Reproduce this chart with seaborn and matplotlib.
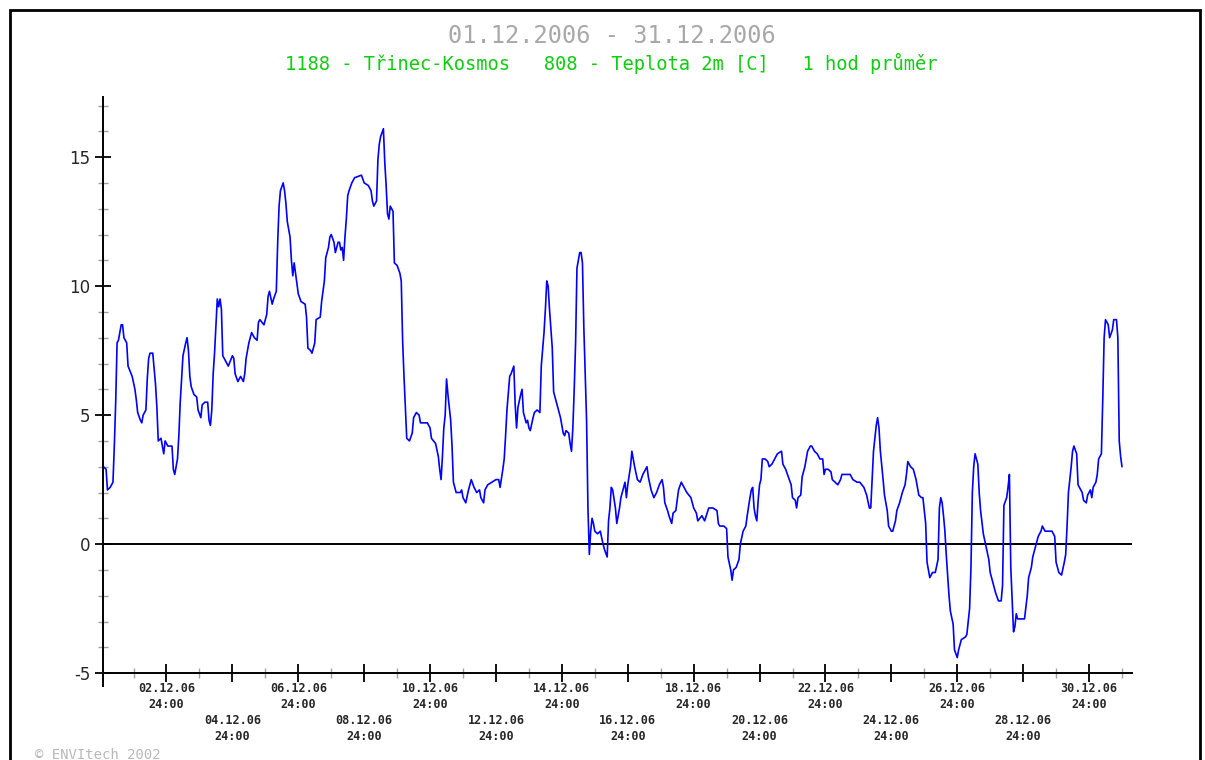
import numpy as np
import pandas as pd
import matplotlib
matplotlib.use("Agg")
import matplotlib.pyplot as plt
import seaborn as sns
from matplotlib.patches import Rectangle

sns.set_style("white")
plt.rcParams['font.family'] = ['DejaVu Sans']

# hours since 01.12.2006 00:00 and the hourly mean temperature
hours = [2, 4, 5, 7, 9, 10, 11, 12, 13, 15, 16, 17, 19, 20, 23, 25, 26, 27, 29, 30,
         31, 33, 34, 35, 36, 38, 39, 40, 41, 42, 44, 45, 46, 47, 49, 52, 53, 54, 56, 57,
         58, 60, 62, 63, 64, 65, 66, 68, 70, 71, 73, 74, 76, 78, 79, 80, 81, 82, 83, 85,
         86, 87, 88, 89, 91, 93, 96, 97, 98, 100, 102, 104, 105, 106, 107, 108, 110, 112, 114, 115,
         116, 119, 121, 122, 123, 125, 126, 128, 129, 130, 131, 133, 134, 135, 136, 138, 139, 140, 141, 142,
         144, 146, 149, 150, 151, 153, 154, 156, 157, 160, 161, 163, 164, 166, 167, 168, 170, 171, 173, 174,
         175, 176, 177, 178, 179, 180, 181, 183, 185, 190, 192, 195, 197, 198, 199, 201, 202, 203, 204, 206,
         207, 208, 209, 210, 211, 213, 214, 216, 218, 219, 220, 221, 222, 223, 225, 227, 228, 230, 232, 233,
         238, 240, 241, 244, 246, 247, 248, 249, 250, 251, 252, 253, 255, 256, 257, 259, 262, 263, 264, 266,
         268, 270, 272, 274, 276, 277, 279, 280, 282, 285, 288, 290, 291, 293, 294, 295, 296, 298, 299, 301,
         302, 303, 304, 306, 307, 308, 310, 311, 312, 313, 315, 316, 318, 320, 321, 323, 324, 325, 326, 327,
         329, 330, 332, 333, 335, 337, 338, 339, 341, 342, 343, 344, 345, 346, 347, 349, 350, 351, 352, 354,
         355, 356, 357, 358, 359, 360, 362, 364, 366, 367, 369, 370, 371, 372, 373, 375, 376, 378, 379, 381,
         382, 383, 384, 386, 387, 389, 391, 393, 395, 398, 399, 401, 403, 405, 407, 409, 410, 411, 413, 414,
         416, 417, 419, 421, 423, 424, 427, 430, 432, 434, 435, 438, 440, 443, 446, 449, 450, 451, 454, 456,
         457, 459, 460, 461, 463, 465, 466, 468, 470, 471, 473, 474, 475, 476, 477, 478, 479, 480, 481, 482,
         484, 486, 487, 489, 491, 493, 496, 497, 499, 501, 503, 504, 506, 507, 508, 510, 511, 513, 515, 517,
         518, 520, 522, 524, 526, 527, 528, 530, 532, 533, 535, 537, 539, 540, 543, 546, 548, 551, 553, 556,
         558, 560, 561, 562, 563, 565, 566, 567, 568, 570, 571, 573, 574, 576, 577, 579, 580, 582, 584, 586,
         587, 588, 590, 592, 594, 596, 598, 599, 601, 602, 604, 606, 608, 610, 611, 612, 613, 614, 615, 616,
         618, 619, 621, 622, 624, 625, 627, 630, 631, 633, 634, 635, 636, 637, 639, 640, 641, 643, 645, 647,
         648, 650, 652, 654, 656, 657, 658, 660, 661, 662, 663, 664, 665, 666, 667, 668, 671, 673, 675, 676,
         678, 679, 681, 683, 685, 686, 688, 690, 693, 695, 696, 698, 700, 702, 703, 704, 705, 707, 708, 709,
         711, 712, 713, 715, 716, 718, 719, 721, 722, 723, 725, 726, 727, 729, 730, 731, 732, 734, 735, 737,
         738, 740, 741, 742, 743, 744]
temps = [3.0, 2.9, 2.1, 2.2, 2.4, 3.8, 5.5, 7.8, 7.9, 8.5, 8.5, 8.0, 7.8, 6.9, 6.5, 6.0, 5.6, 5.1, 4.8, 4.7,
         5.0, 5.2, 6.4, 7.2, 7.4, 7.4, 6.8, 6.2, 5.3, 4.0, 4.1, 3.8, 3.5, 4.0, 3.8, 3.8, 2.9, 2.7, 3.3, 4.2,
         5.5, 7.3, 7.8, 8.0, 7.5, 6.5, 6.1, 5.8, 5.7, 5.2, 4.9, 5.4, 5.5, 5.5, 4.8, 4.6, 5.2, 6.6, 7.4, 9.5,
         9.2, 9.5, 9.1, 7.3, 7.1, 6.9, 7.3, 7.2, 6.6, 6.3, 6.5, 6.3, 6.6, 7.2, 7.5, 7.8, 8.2, 8.0, 7.9, 8.6,
         8.7, 8.5, 8.9, 9.6, 9.8, 9.3, 9.5, 9.8, 11.7, 13.1, 13.7, 14.0, 13.7, 13.2, 12.5, 11.9, 11.0, 10.4, 10.9, 10.5,
         9.7, 9.4, 9.3, 8.8, 7.6, 7.5, 7.4, 7.8, 8.7, 8.8, 9.4, 10.2, 11.1, 11.5, 11.9, 12.0, 11.7, 11.3, 11.7, 11.7,
         11.4, 11.5, 11.0, 11.9, 12.6, 13.5, 13.7, 14.0, 14.2, 14.3, 14.0, 13.9, 13.7, 13.3, 13.1, 13.3, 14.9, 15.5, 15.8, 16.1,
         14.8, 13.9, 12.8, 12.6, 13.1, 12.9, 10.9, 10.8, 10.5, 10.2, 7.9, 6.5, 5.3, 4.1, 4.0, 4.3, 4.9, 5.1, 5.0, 4.7,
         4.7, 4.5, 4.1, 3.9, 3.4, 2.9, 2.5, 3.4, 4.5, 5.0, 6.4, 5.8, 4.8, 3.8, 2.4, 2.0, 2.0, 2.1, 1.8, 1.6,
         2.1, 2.5, 2.2, 2.0, 2.1, 1.8, 1.6, 2.1, 2.3, 2.4, 2.5, 2.5, 2.2, 2.9, 3.3, 4.2, 5.2, 6.5, 6.6, 6.9,
         5.4, 4.5, 5.3, 5.8, 6.0, 5.1, 4.7, 4.8, 4.5, 4.4, 4.9, 5.1, 5.2, 5.1, 6.9, 8.2, 9.1, 10.2, 10.0, 9.1,
         7.6, 5.9, 5.5, 5.3, 4.9, 4.3, 4.2, 4.4, 4.3, 3.9, 3.6, 4.5, 6.0, 7.8, 10.7, 11.3, 11.3, 10.9, 8.4, 4.8,
         1.4, -0.4, 0.5, 1.0, 0.8, 0.5, 0.4, 0.5, 0.0, -0.2, -0.5, 0.9, 1.4, 2.2, 2.1, 1.4, 0.8, 1.4, 1.8, 2.2,
         2.4, 1.8, 2.3, 3.0, 3.6, 3.0, 2.5, 2.4, 2.7, 3.0, 2.6, 2.1, 1.8, 2.0, 2.3, 2.5, 2.2, 1.6, 1.3, 1.1,
         0.8, 1.2, 1.3, 2.1, 2.4, 2.3, 2.0, 1.8, 1.4, 1.2, 0.9, 1.1, 0.9, 1.4, 1.4, 1.3, 0.8, 0.7, 0.7, 0.6,
         -0.5, -1.0, -1.4, -1.0, -0.9, -0.6, 0.0, 0.5, 0.7, 1.1, 1.8, 2.1, 2.2, 1.4, 1.1, 0.9, 1.7, 2.3, 2.5, 3.3,
         3.3, 3.2, 3.0, 3.1, 3.3, 3.5, 3.6, 3.1, 2.9, 2.6, 2.3, 1.8, 1.7, 1.4, 1.8, 1.9, 2.6, 3.0, 3.6, 3.8,
         3.8, 3.6, 3.5, 3.3, 3.3, 2.7, 2.9, 2.9, 2.8, 2.5, 2.4, 2.3, 2.5, 2.7, 2.7, 2.7, 2.5, 2.4, 2.4, 2.2,
         1.9, 1.4, 1.4, 2.5, 3.6, 4.6, 4.9, 4.5, 3.6, 2.5, 1.9, 1.3, 0.7, 0.5, 0.5, 0.9, 1.3, 1.6, 2.0, 2.3,
         2.7, 3.2, 3.0, 2.9, 2.5, 1.9, 1.8, 1.8, 0.8, -0.7, -1.3, -1.1, -1.1, -0.6, 1.4, 1.8, 1.6, 1.1, 0.5, -0.4,
         -2.0, -2.6, -3.1, -4.1, -4.4, -4.1, -3.7, -3.6, -3.5, -2.5, -0.9, 2.0, 3.0, 3.5, 3.1, 2.0, 1.3, 0.4, -0.1, -0.6,
         -1.1, -1.5, -1.9, -2.2, -2.2, -1.6, 1.5, 1.8, 2.2, 2.7, -0.9, -2.2, -3.4, -3.2, -2.7, -2.9, -2.9, -2.9, -2.0, -1.3,
         -0.9, -0.5, -0.1, 0.3, 0.5, 0.7, 0.5, 0.5, 0.5, 0.3, -0.7, -1.1, -1.2, -0.7, -0.4, 0.7, 2.0, 3.0, 3.6, 3.8,
         3.5, 2.3, 2.2, 2.0, 1.7, 1.6, 1.9, 2.1, 1.8, 2.2, 2.4, 2.7, 3.3, 3.5, 5.6, 8.0, 8.7, 8.5, 8.0, 8.3,
         8.7, 8.7, 8.0, 4.0, 3.4, 3.0]

label_days = [2, 4, 6, 8, 10, 12, 14, 16, 18, 20, 22, 24, 26, 28, 30]
y_major = [-5, 0, 5, 10, 15]

df = pd.DataFrame({"hour": hours, "temp": temps})

fig = plt.figure(figsize=(12.05, 7.6), dpi=100)
ax = fig.add_axes([103 / 1205, 1 - 686 / 760, 1029 / 1205, 589 / 760])

sns.lineplot(data=df, x="hour", y="temp", color="#0000ff", lw=1.2,
             estimator=None, ax=ax)
ax.axhline(0, color="black", lw=1.4, zorder=1)

ax.set_xlim(1.75, 751.3)
ax.set_ylim(-5.5, 17.33)
ax.set_xlabel("")
ax.set_ylabel("")

for s in ["top", "right"]:
    ax.spines[s].set_visible(False)
ax.spines["bottom"].set_position(("data", -5))
ax.spines["left"].set_linewidth(1.4)
ax.spines["bottom"].set_linewidth(1.4)
ax.spines["left"].set_color("black")
ax.spines["bottom"].set_color("black")

# x ticks: label every second day at 24:00, labels in two staggered rows
major_x = [d * 24 for d in label_days]
xlabels = []
for i, d in enumerate(label_days):
    txt = "%02d.12.06\n24:00" % d
    if i % 2 == 1:
        txt = "\n\n" + txt
    xlabels.append(txt)
ax.set_xticks(major_x, xlabels)
ax.set_xticks([d * 24 for d in range(1, 32, 2)], minor=True)

ax.set_yticks(y_major, [str(v) for v in y_major])
ax.set_yticks(range(-5, 18), minor=True)

ax.tick_params(which="both", bottom=True, left=True)
ax.tick_params(axis="x", which="major", direction="inout", length=13, width=1.3,
               color="black", pad=0, labelsize=8.5)
ax.tick_params(axis="x", which="minor", direction="inout", length=7, width=1,
               color="#a0a0a0")
ax.tick_params(axis="y", which="major", direction="inout", length=12, width=1.3,
               color="black", pad=3, labelsize=12)
ax.tick_params(axis="y", which="minor", direction="inout", length=6.5, width=1,
               color="#a0a0a0")

for lbl in ax.get_xticklabels():
    lbl.set_fontfamily("DejaVu Sans Mono")
    lbl.set_fontweight("bold")
    lbl.set_linespacing(1.3)

fig.text(0.508, 0.953, "01.12.2006 - 31.12.2006", ha="center", va="center",
         fontsize=17, color="#a8a8a8", family="DejaVu Sans Mono")
fig.text(0.507, 0.917, "1188 - Třinec-Kosmos   808 - Teplota 2m [C]   1 hod průměr",
         ha="center", va="center", fontsize=13.5, color="#11cc11",
         family="DejaVu Sans Mono")
fig.text(35 / 1205, 0.006, "© ENVItech 2002", ha="left", va="center",
         fontsize=10, color="#b8b8b8", family="DejaVu Sans Mono")

fig.add_artist(Rectangle((10 / 1205, -0.1), 1190 / 1205, 1.1 - 10 / 760,
                         transform=fig.transFigure, fill=False, lw=2,
                         edgecolor="black", clip_on=False))

fig.savefig("out.png", dpi=100)
